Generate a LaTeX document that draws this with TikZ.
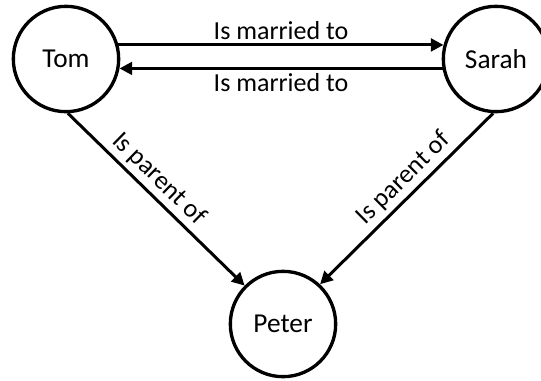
\documentclass[tikz,border=0pt]{standalone}
\usepackage{fontspec}
\setmainfont{Carlito}
\usetikzlibrary{arrows.meta}

\begin{document}
\begin{tikzpicture}[x=0.75pt, y=0.75pt,
    person/.style={circle, draw, line width=2.5pt, minimum size=79pt, inner sep=0pt, font=\fontsize{20.5}{24}\selectfont},
    rel/.style={line width=2.25pt, -{Triangle[length=9.5pt, width=9.5pt]}},
    lbl/.style={font=\fontsize{19.5}{23}\selectfont, inner sep=3pt}]
    \useasboundingbox (0,0) rectangle (541,380);
    \clip (0,0) rectangle (541,380);
    \node [person] (tom) at (66, 321) {Tom};
    \node [person] (sarah) at (496, 321) {Sarah};
    \node [person] (peter) at (283, 56) {Peter};
    % the two marriage edges
    \draw [rel] (tom.15) to node [lbl, above] {Is married to} (sarah.165);
    \draw [rel] (sarah.190) to node [lbl, below] {Is married to} (tom.350);
    % parent edges down to the child
    \draw [rel] (tom.272) to node [lbl, sloped, above, pos=0.45] {Is parent of} (peter.135);
    \draw [rel] (sarah.267) to node [lbl, sloped, above, pos=0.45] {Is parent of} (peter.47);
  \end{tikzpicture}
\end{document}
